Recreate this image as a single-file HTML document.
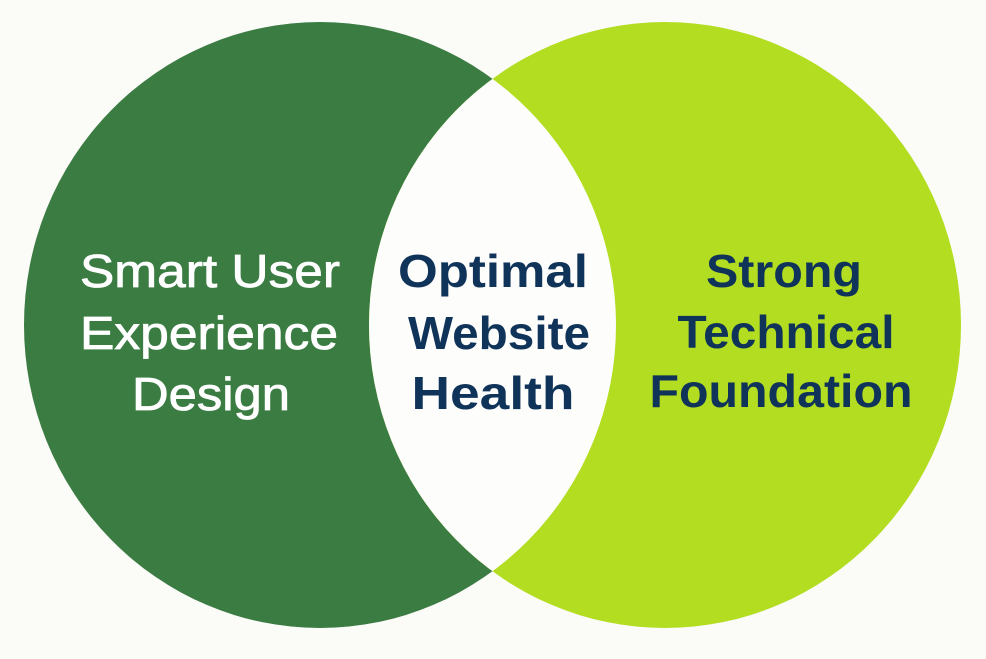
<!DOCTYPE html>
<html><head><meta charset="utf-8"><style>
html,body{margin:0;padding:0;background:#fbfbf8;}
svg{display:block}
text{font-family:"Liberation Sans",sans-serif;font-size:46px;text-anchor:middle}
</style></head><body>
<svg width="986" height="659" viewBox="0 0 986 659">
<rect width="986" height="659" fill="#fbfbf8"/>
<defs>
<clipPath id="cl"><ellipse cx="320" cy="325" rx="296" ry="303"/></clipPath>
</defs>
<ellipse cx="320" cy="325" rx="296" ry="303" fill="#3b7c43"/>
<ellipse cx="665" cy="325" rx="296" ry="303" fill="#b3dd21"/>
<ellipse cx="665" cy="325" rx="296" ry="303" fill="#fdfdfb" clip-path="url(#cl)"/>
<g fill="#ffffff" stroke="#ffffff" stroke-width="0.8" font-weight="normal">
<text x="210" y="287" textLength="260" lengthAdjust="spacingAndGlyphs">Smart User</text>
<text x="209" y="349" textLength="258" lengthAdjust="spacingAndGlyphs">Experience</text>
<text x="211" y="410" textLength="158" lengthAdjust="spacingAndGlyphs">Design</text>
</g>
<g fill="#0f3359" font-weight="bold">
<text x="493" y="287" textLength="190" lengthAdjust="spacingAndGlyphs">Optimal</text>
<text x="499" y="349" textLength="182" lengthAdjust="spacingAndGlyphs">Website</text>
<text x="493" y="409" textLength="163" lengthAdjust="spacingAndGlyphs">Health</text>
<text x="784" y="287" textLength="156" lengthAdjust="spacingAndGlyphs">Strong</text>
<text x="786" y="348" textLength="217" lengthAdjust="spacingAndGlyphs">Technical</text>
<text x="781" y="407" textLength="263" lengthAdjust="spacingAndGlyphs">Foundation</text>
</g>
</svg>
</body></html>
